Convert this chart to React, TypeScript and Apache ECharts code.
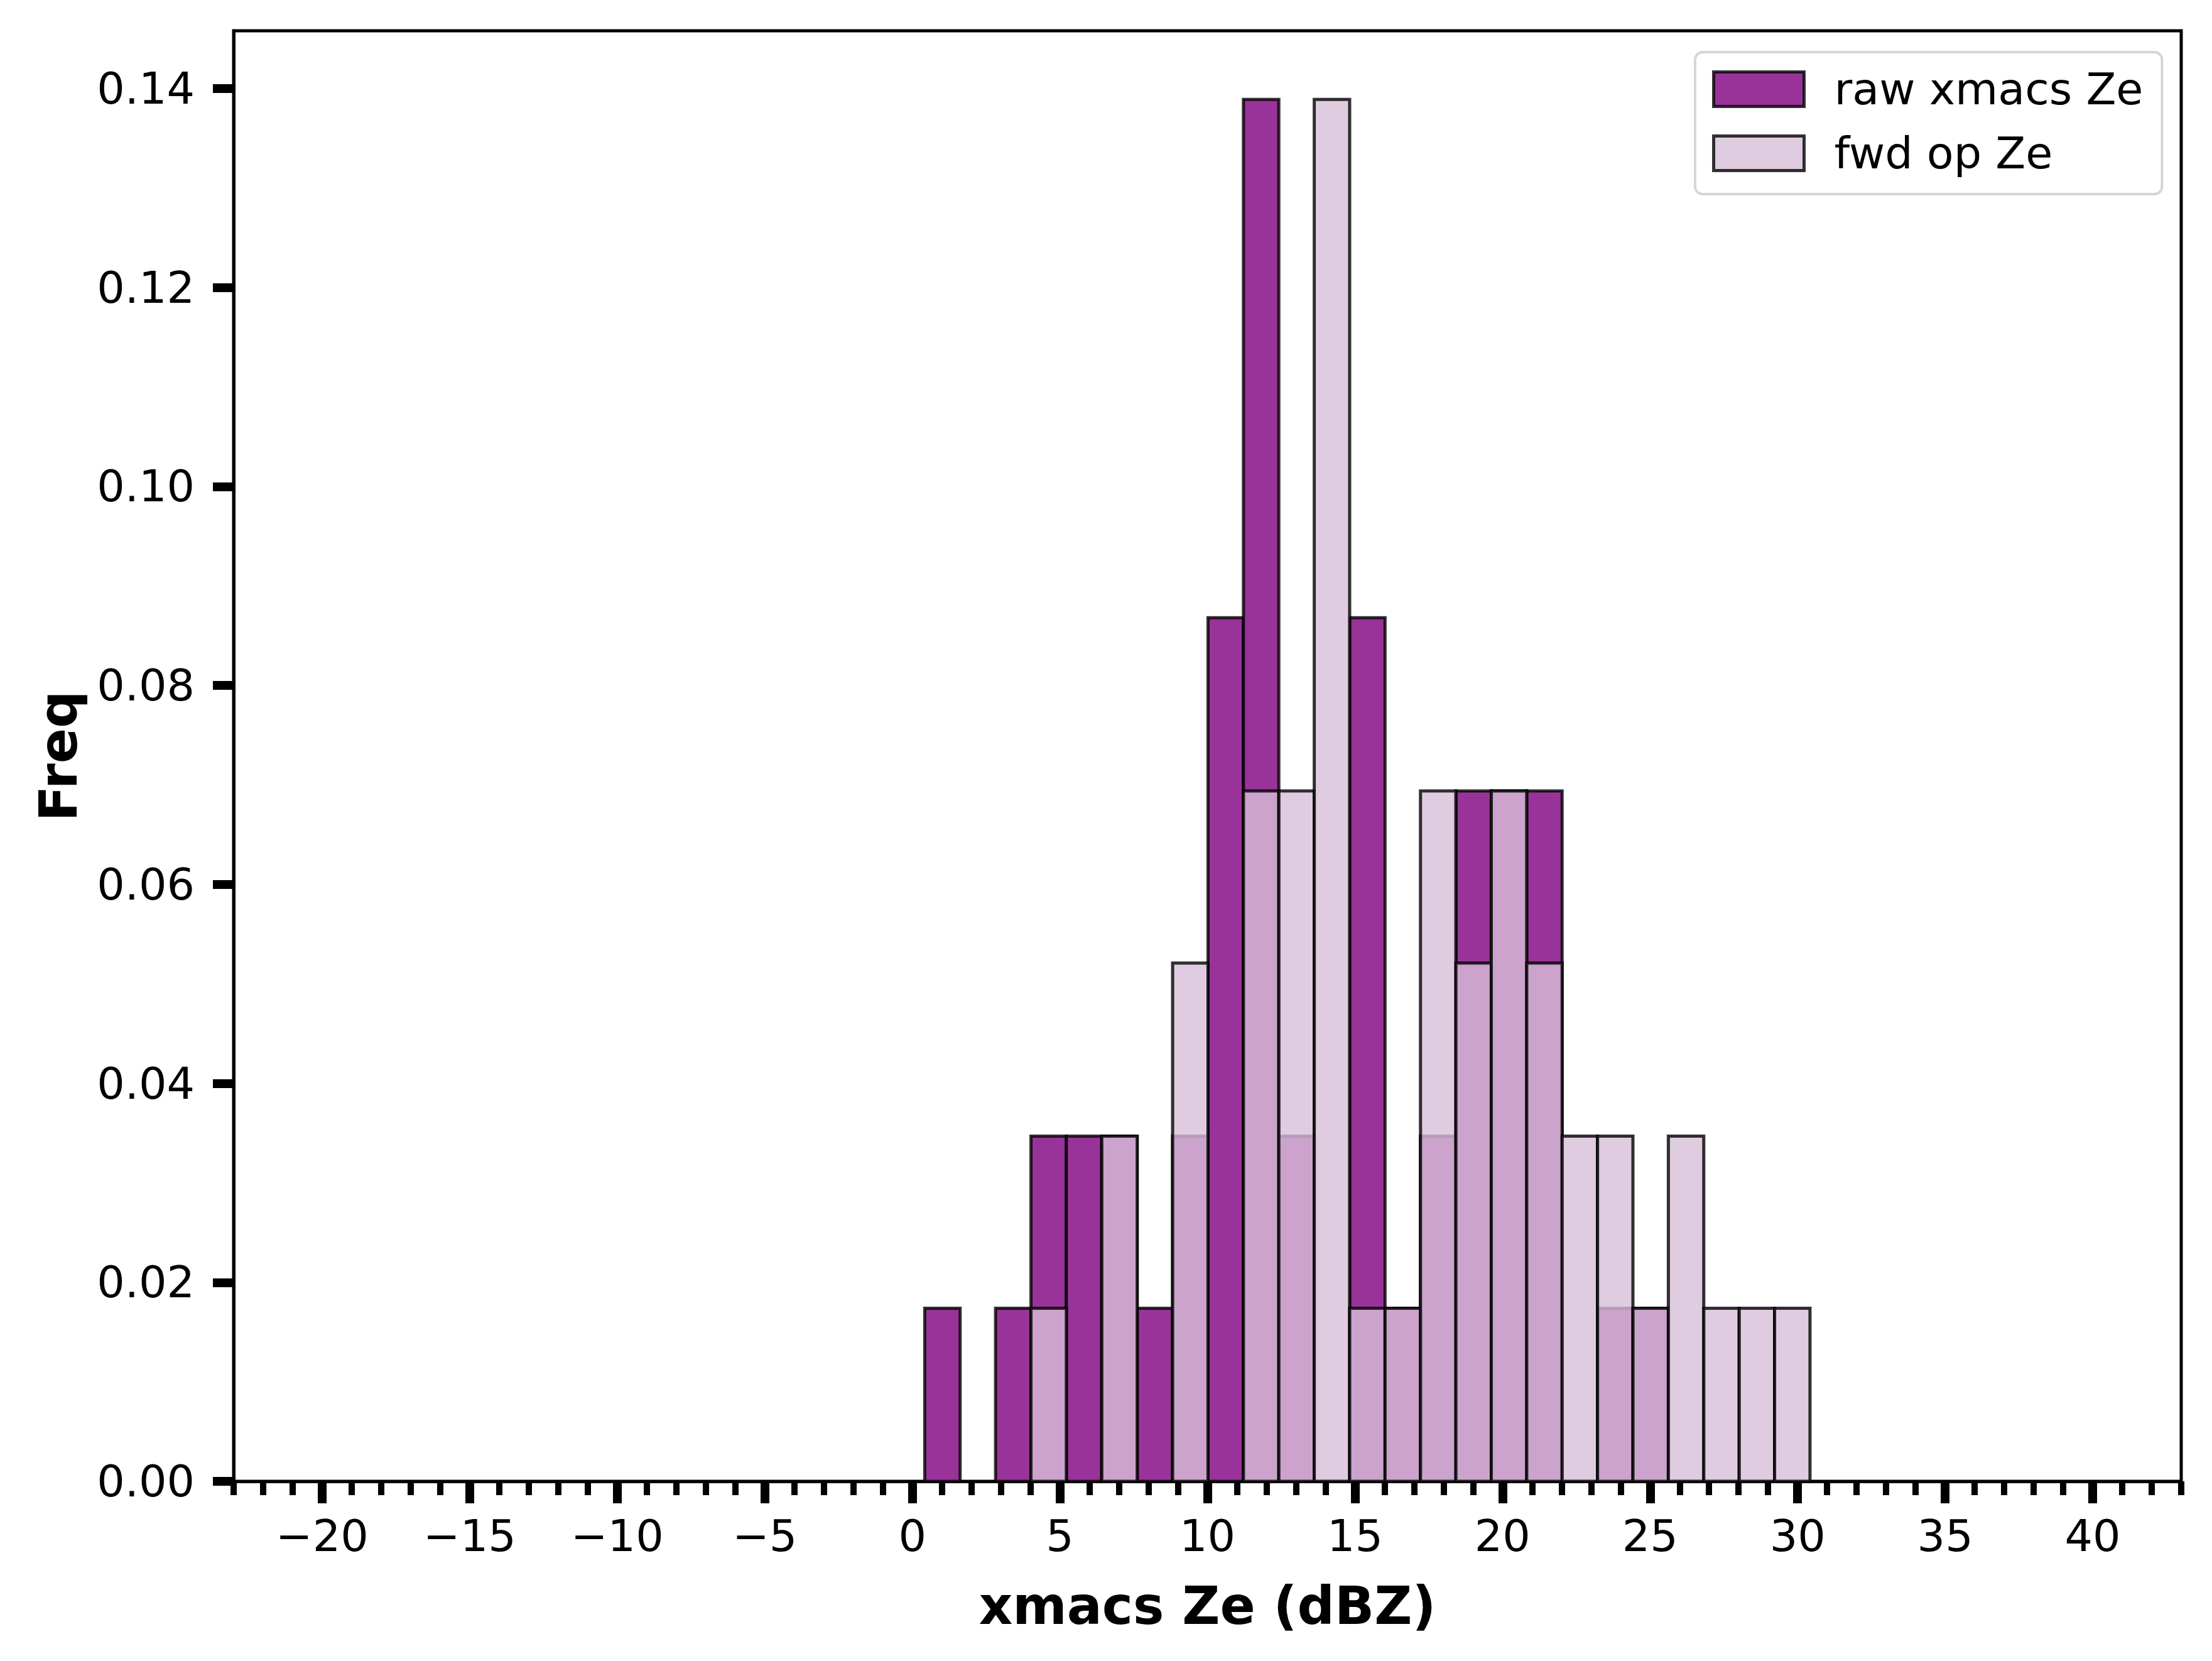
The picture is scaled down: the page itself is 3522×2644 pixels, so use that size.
import React, { useEffect, useRef } from "react";
import * as echarts from "echarts";

// Histogram bin edges (dBZ)
const BIN_EDGES = [
  0.42, 1.62, 2.82, 4.02, 5.22, 6.42, 7.62, 8.82, 10.02, 11.22, 12.42, 13.62,
  14.82, 16.02, 17.22, 18.42, 19.62, 20.82, 22.02, 23.22, 24.42, 25.62, 26.82,
  28.02, 29.22, 30.42,
];

// Density per bin
const RAW_FREQ = [
  0.0174, 0, 0.0174, 0.0347, 0.0347, 0.0347, 0.0174, 0.0347, 0.0868, 0.1389,
  0.0347, 0, 0.0868, 0.0174, 0.0347, 0.0694, 0.0694, 0.0694, 0, 0.0174, 0.0174,
  0, 0, 0, 0,
];
const FWD_FREQ = [
  0, 0, 0, 0.0174, 0, 0.0347, 0, 0.0521, 0, 0.0694, 0.0694, 0.1389, 0.0174,
  0.0174, 0.0694, 0.0521, 0.0694, 0.0521, 0.0347, 0.0347, 0.0174, 0.0347,
  0.0174, 0.0174, 0.0174,
];

const SERIES_NAMES = ["raw xmacs Ze", "fwd op Ze"];
const X_MAJOR_TICKS = [-20, -15, -10, -5, 0, 5, 10, 15, 20, 25, 30, 35, 40];
const Y_TICKS = [0, 0.02, 0.04, 0.06, 0.08, 0.1, 0.12, 0.14];

const FONT = "DejaVu Sans";
const RAW_COLOR = "#993399";
const FWD_COLOR = "rgba(216,191,216,0.8)";
const EDGE_COLOR = "rgba(0,0,0,0.8)";

function toBars(freq: number[]) {
  return freq
    .map((v, i) => [BIN_EDGES[i], BIN_EDGES[i + 1], v])
    .filter((d) => d[2] > 0);
}

function makeRender(fill: string) {
  return (params: any, api: any) => {
    const x0 = api.value(0);
    const x1 = api.value(1);
    const y = api.value(2);
    const a = api.coord([x0, 0]);
    const b = api.coord([x1, y]);
    return {
      type: "rect",
      shape: { x: a[0], y: b[1], width: b[0] - a[0], height: a[1] - b[1] },
      style: { fill, stroke: EDGE_COLOR, lineWidth: 5 },
    };
  };
}

export default function App() {
  const ref = useRef<HTMLDivElement>(null);
  useEffect(() => {
    if (!ref.current) return;
    const chart = echarts.init(ref.current, null, { renderer: "svg" });
    const option: any = {
      animation: false,
      backgroundColor: "#ffffff",
      textStyle: { fontFamily: FONT },
      grid: {
        left: 372,
        right: 49,
        top: 49,
        bottom: 286,
        show: true,
        borderColor: "#000",
        borderWidth: 5,
        backgroundColor: "transparent",
      },
      legend: {
        orient: "vertical",
        left: 2699,
        top: 83,
        itemWidth: 144,
        itemHeight: 55,
        itemGap: 32,
        padding: [24, 30, 30, 27],
        borderColor: "#d6d6d6",
        borderWidth: 4,
        borderRadius: 12,
        backgroundColor: "rgba(255,255,255,0.8)",
        selectedMode: false,
        textStyle: {
          fontSize: 70,
          color: "#000",
          fontFamily: FONT,
          padding: [0, 0, 0, 43],
        },
        data: [
          {
            name: SERIES_NAMES[0],
            icon: "rect",
            itemStyle: { color: RAW_COLOR, borderColor: EDGE_COLOR, borderWidth: 5 },
          },
          {
            name: SERIES_NAMES[1],
            icon: "rect",
            itemStyle: { color: FWD_COLOR, borderColor: EDGE_COLOR, borderWidth: 5 },
          },
        ],
      },
      xAxis: [
        {
          type: "value",
          position: "bottom",
          min: -23,
          max: 43,
          interval: 1,
          axisLine: { show: true, onZero: false, lineStyle: { color: "#000", width: 5 } },
          axisTick: { show: true, length: 22, lineStyle: { color: "#000", width: 10 } },
          axisLabel: { show: false },
          splitLine: { show: false },
        },
        {
          type: "value",
          position: "bottom",
          min: -23,
          max: 43,
          axisLine: { show: false, onZero: false },
          axisTick: {
            show: true,
            length: 35,
            customValues: X_MAJOR_TICKS,
            lineStyle: { color: "#000", width: 14 },
          },
          axisLabel: {
            show: true,
            customValues: X_MAJOR_TICKS,
            fontSize: 70,
            color: "#000",
            fontFamily: FONT,
            margin: 52,
            formatter: (v: number) => String(v).replace("-", "\u2212"),
          },
          splitLine: { show: false },
          name: "xmacs Ze (dBZ)",
          nameLocation: "middle",
          nameGap: 157,
          nameTextStyle: { fontSize: 83, fontWeight: "bold", color: "#000", fontFamily: FONT },
        },
      ],
      yAxis: {
        type: "value",
        position: "left",
        min: 0,
        max: 0.1458,
        axisLine: { show: true, onZero: false, lineStyle: { color: "#000", width: 5 } },
        axisTick: {
          show: true,
          length: 33,
          customValues: Y_TICKS,
          lineStyle: { color: "#000", width: 14 },
        },
        axisLabel: {
          show: true,
          customValues: Y_TICKS,
          fontSize: 70,
          color: "#000",
          fontFamily: FONT,
          margin: 62,
          formatter: (v: number) => v.toFixed(2),
        },
        splitLine: { show: false },
        name: "Freq",
        nameLocation: "middle",
        nameGap: 237,
        nameRotate: 90,
        nameTextStyle: { fontSize: 83, fontWeight: "bold", color: "#000", fontFamily: FONT },
      },
      series: [
        {
          type: "custom",
          name: SERIES_NAMES[0],
          xAxisIndex: 0,
          yAxisIndex: 0,
          encode: { x: [0, 1], y: 2 },
          itemStyle: { color: RAW_COLOR },
          renderItem: makeRender(RAW_COLOR),
          data: toBars(RAW_FREQ),
        },
        {
          type: "custom",
          name: SERIES_NAMES[1],
          xAxisIndex: 0,
          yAxisIndex: 0,
          encode: { x: [0, 1], y: 2 },
          itemStyle: { color: FWD_COLOR },
          renderItem: makeRender(FWD_COLOR),
          data: toBars(FWD_FREQ),
        },
      ],
    };
    chart.setOption(option);
    return () => chart.dispose();
  }, []);
  return (
    <div
      ref={ref}
      style={{ position: "absolute", left: 0, top: 0, width: 3522, height: 2644 }}
    />
  );
}
